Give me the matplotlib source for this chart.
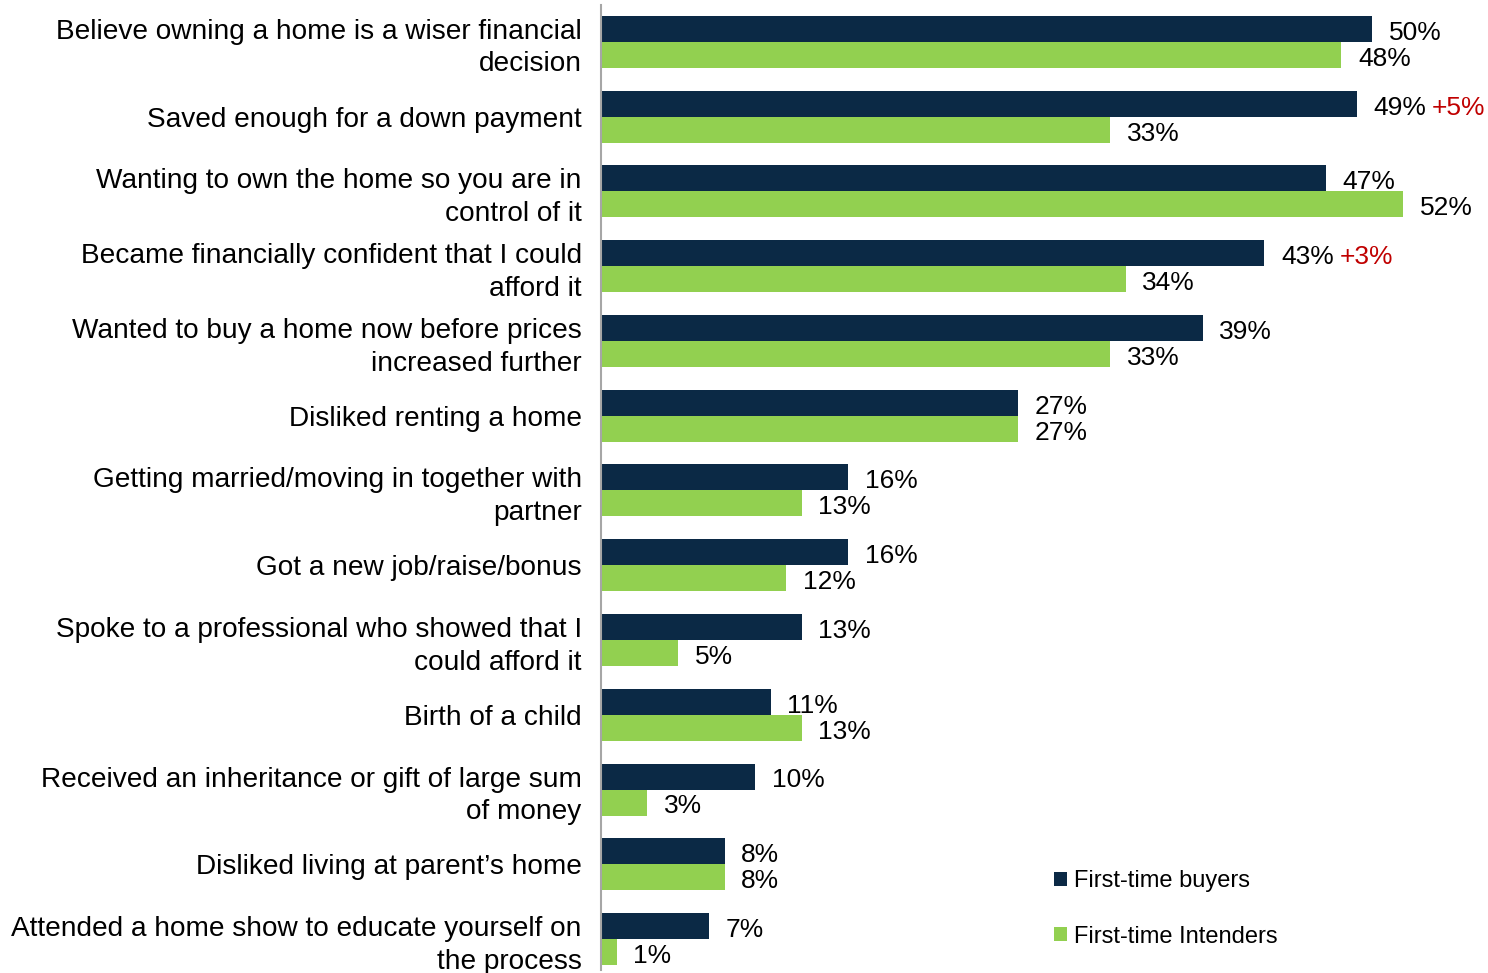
import matplotlib
matplotlib.use("Agg")
import matplotlib.pyplot as plt
import numpy as np

plt.rcParams['font.family'] = ['Liberation Sans', 'DejaVu Sans']

categories = [
    "Believe owning a home is a wiser financial\ndecision",
    "Saved enough for a down payment",
    "Wanting to own the home so you are in\ncontrol of it",
    "Became financially confident that I could\nafford it",
    "Wanted to buy a home now before prices\nincreased further",
    "Disliked renting a home",
    "Getting married/moving in together with\npartner",
    "Got a new job/raise/bonus",
    "Spoke to a professional who showed that I\ncould afford it",
    "Birth of a child",
    "Received an inheritance or gift of large sum\nof money",
    "Disliked living at parent\u2019s home",
    "Attended a home show to educate yourself on\nthe process",
]
buyers = [50, 49, 47, 43, 39, 27, 16, 16, 13, 11, 10, 8, 7]
intenders = [48, 33, 52, 34, 33, 27, 13, 12, 5, 13, 3, 8, 1]
# change vs. previous wave, shown in red next to some buyer values
changes = {1: "+5%", 3: "+3%"}

DARK = "#0b2945"
GREEN = "#92d050"
RED = "#c00000"

fig = plt.figure(figsize=(14.88, 9.73), dpi=100)
ax = fig.add_axes([0.404, 0.003, 0.596, 0.992])

y = np.arange(len(categories))
h = 0.348
ax.barh(y - h / 2, buyers, height=h, color=DARK, label="First-time buyers")
ax.barh(y + h / 2, intenders, height=h, color=GREEN, label="First-time Intenders")

ax.set_xlim(0, 57.5)
ax.set_ylim(12.415, -0.495)

for i in y:
    t = ax.annotate(f"{buyers[i]}%", xy=(buyers[i], i - h / 2), xytext=(12, -1),
                    textcoords="offset points", va="center_baseline", ha="left",
                    fontsize=19)
    if i in changes:
        ax.annotate(changes[i], xy=(1, 0.5), xycoords=t, xytext=(4, 0),
                    textcoords="offset points", va="center", ha="left",
                    fontsize=19, color=RED)
    ax.annotate(f"{intenders[i]}%", xy=(intenders[i], i + h / 2), xytext=(12, -1),
                textcoords="offset points", va="center_baseline", ha="left",
                fontsize=19)

ax.set_yticks(y)
ax.set_yticklabels(categories, fontsize=20.2, linespacing=1.33)
ax.tick_params(axis="y", length=0, pad=14)
ax.set_xticks([])

for s in ["top", "right", "bottom"]:
    ax.spines[s].set_visible(False)
ax.spines["left"].set_color("#a6a6a6")
ax.spines["left"].set_linewidth(1.5)

fig.legend(loc="upper left", bbox_to_anchor=(0.7085, 0.1057), frameon=False,
           fontsize=17, handlelength=0.55, handleheight=0.55, handletextpad=0.3,
           labelspacing=1.42, borderpad=0, borderaxespad=0)

fig.savefig("out.png", dpi=100)
